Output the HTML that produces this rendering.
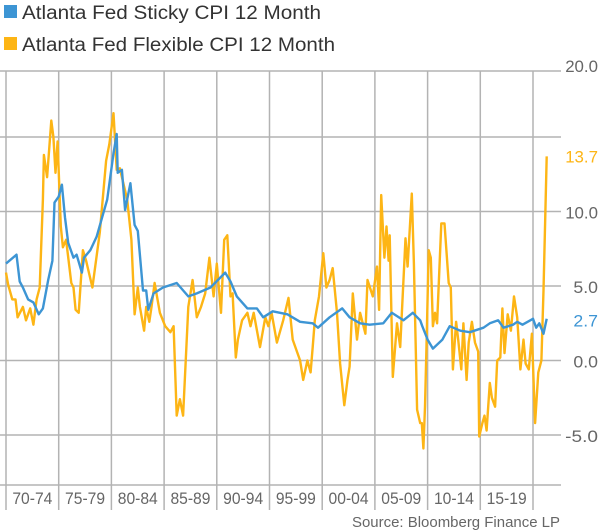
<!DOCTYPE html>
<html><head><meta charset="utf-8"><style>
html,body{margin:0;padding:0;background:#fff;}
svg{display:block;font-family:"Liberation Sans Narrow","Liberation Sans",sans-serif;}
</style></head><body>
<svg id="chart" width="600" height="532" viewBox="0 0 600 532" xmlns="http://www.w3.org/2000/svg">
<g id="grid"></g>
<g id="series"></g>
<g id="labels"></g>
<g>
<rect x="4" y="5" width="13" height="13" fill="#3d95d4"/>
<text x="22" y="19" font-size="19" fill="#333" textLength="299" lengthAdjust="spacingAndGlyphs">Atlanta Fed Sticky CPI 12 Month</text>
<rect x="4" y="37" width="13" height="13" fill="#fdb515"/>
<text x="22" y="51" font-size="19" fill="#333" textLength="313" lengthAdjust="spacingAndGlyphs">Atlanta Fed Flexible CPI 12 Month</text>
</g>
<text x="352" y="527" font-size="15" fill="#666" textLength="208" lengthAdjust="spacingAndGlyphs">Source: Bloomberg Finance LP</text>
</svg>
<script>
const stickyYears=[1970.0,1971.0,1971.3,1971.6,1972.1,1972.6,1973.1,1973.5,1974.0,1974.4,1974.6,1975.0,1975.3,1975.6,1975.9,1976.4,1976.7,1977.2,1977.4,1978.0,1978.6,1979.6,1980.2,1980.5,1980.6,1981.0,1981.3,1981.8,1982.2,1982.5,1983.0,1983.3,1983.5,1984.0,1984.9,1986.2,1987.3,1988.1,1989.4,1990.8,1991.3,1991.9,1992.9,1993.8,1994.4,1995.3,1996.7,1997.9,1999.1,1999.6,2000.7,2001.9,2002.6,2003.6,2004.5,2005.8,2006.6,2007.7,2008.6,2009.3,2009.5,2010.0,2010.5,2011.4,2012.1,2013.1,2014.0,2015.3,2015.9,2016.7,2017.2,2018.1,2018.5,2019.0,2020.0,2020.3,2020.6,2021.0,2021.3];
const stickyValues=[6.5,7.1,5.3,4.9,4.1,3.9,3.1,3.5,5.4,6.7,10.6,11.0,11.8,9.6,7.9,6.9,7.1,5.9,6.9,7.4,8.3,10.8,13.9,15.2,12.6,12.8,10.1,11.9,9.1,8.7,4.7,4.7,3.4,4.5,4.9,5.2,4.3,4.5,4.9,5.9,5.3,4.3,3.5,3.5,2.9,3.3,3.1,2.6,2.5,2.2,2.9,3.5,2.9,2.5,2.4,2.5,3.2,2.7,3.2,2.7,2.3,1.4,0.8,1.4,2.3,2.0,1.9,2.2,2.5,2.7,2.2,2.4,2.6,2.4,2.8,2.2,2.5,1.8,2.8];
const flexYears=[1970.0,1970.2,1970.6,1970.9,1971.1,1971.6,1971.9,1972.3,1972.6,1972.9,1973.2,1973.5,1973.6,1973.9,1974.3,1974.5,1974.7,1974.9,1975.2,1975.4,1975.7,1976.2,1976.4,1976.6,1976.9,1977.3,1977.6,1977.8,1978.2,1978.9,1979.5,1979.8,1980.2,1980.5,1980.8,1981.5,1981.9,1982.2,1982.5,1982.7,1983.1,1983.3,1983.6,1983.8,1984.1,1984.6,1985.1,1985.6,1985.9,1986.2,1986.5,1986.8,1987.3,1987.7,1988.1,1988.5,1988.9,1989.3,1989.7,1990.0,1990.4,1990.7,1991.0,1991.3,1991.5,1991.8,1992.0,1992.4,1992.9,1993.2,1993.5,1994.1,1994.6,1994.9,1995.2,1995.7,1996.3,1996.8,1997.2,1997.9,1998.2,1998.6,1998.9,1999.1,1999.3,1999.7,2000.1,2000.4,2000.7,2001.0,2001.4,2001.7,2002.1,2002.4,2002.6,2002.9,2003.3,2003.6,2004.1,2004.3,2004.8,2005.2,2005.4,2005.6,2005.9,2006.1,2006.3,2006.4,2006.7,2007.1,2007.4,2007.9,2008.1,2008.5,2008.7,2009.0,2009.3,2009.45,2009.6,2009.75,2009.9,2010.1,2010.3,2010.5,2010.7,2010.9,2011.3,2011.6,2012.0,2012.2,2012.4,2012.7,2012.9,2013.2,2013.4,2013.7,2013.9,2014.2,2014.5,2014.8,2014.9,2015.2,2015.4,2015.6,2015.9,2016.1,2016.4,2016.6,2016.9,2017.1,2017.3,2017.6,2017.9,2018.2,2018.5,2018.8,2019.1,2019.3,2019.6,2019.9,2020.2,2020.5,2020.8,2021.0,2021.3];
const flexValues=[5.9,5.1,4.1,4.1,2.9,3.6,2.7,3.5,2.4,4.1,4.9,10.8,13.8,12.3,16.1,15.0,12.6,14.7,9.0,7.6,8.1,5.2,4.9,3.4,3.2,7.4,6.7,6.1,4.9,8.6,13.4,14.5,16.6,12.8,12.9,10.8,8.1,3.1,4.9,3.6,2.0,3.6,2.6,3.6,5.2,3.2,2.3,1.9,2.3,-3.7,-2.6,-3.7,3.6,5.4,2.9,3.6,4.5,6.9,4.3,6.5,3.2,8.1,8.4,4.3,4.5,0.2,1.4,2.7,3.2,2.3,3.2,0.9,2.9,2.3,3.2,1.2,2.7,4.2,1.4,0.0,-1.3,0.0,-0.8,0.9,2.7,4.3,7.2,4.9,5.4,6.2,3.2,-0.2,-3.0,-1.3,-0.4,4.5,1.4,3.2,1.8,5.4,4.3,6.3,3.4,11.1,6.9,9.0,6.7,8.4,-1.1,2.5,0.9,8.2,6.3,11.2,6.5,-3.3,-4.2,-4.2,-5.9,-3.1,1.0,7.4,6.9,2.3,3.2,2.5,9.2,9.2,5.2,4.9,-0.6,2.6,1.4,-0.6,2.5,-1.3,1.2,2.6,1.2,0.6,-5.1,-4.2,-3.7,-4.7,-1.5,-2.5,-3.1,0.0,0.2,3.5,0.5,3.1,2.0,4.3,2.9,-0.6,1.4,-0.2,-0.6,1.8,-4.2,-0.8,0.0,4.7,13.7];
const yTicks=[10,5,0,-5];
const yTickLabels=["10.0","5.0","0.0","-5.0"];
const xGridYears=[1970,1975,1980,1985,1990,1995,2000,2005,2010,2015,2020];
const xCategoryLabels=["70-74","75-79","80-84","85-89","90-94","95-99","00-04","05-09","10-14","15-19"];
const lastSticky=2.7, lastFlex=13.7;

const NS="http://www.w3.org/2000/svg";
function xs(yr){return 6+(yr-1970)*10.54;}
function ys(v){return 360.5-v*14.9;}
function mk(tag,attrs,parent){const e=document.createElementNS(NS,tag);for(const k in attrs)e.setAttribute(k,attrs[k]);parent.appendChild(e);return e;}
function w(s){return s.length*8.2;}
const grid=document.getElementById('grid'),series=document.getElementById('series'),labels=document.getElementById('labels');
const GC="#b3b3b3";
let e=mk('line',{x1:0,x2:561,y1:71,y2:71,stroke:GC,'stroke-width':1.5},grid);


[15,10,5,0,-5].forEach(v=>{
  const l=mk('line',{x1:0,x2:561,y1:ys(v),y2:ys(v),stroke:GC,'stroke-width':1.5},grid);
  
  
});
xGridYears.forEach(yr=>{
  const l=mk('line',{x1:xs(yr),x2:xs(yr),y1:71,y2:510,stroke:GC,'stroke-width':1.5},grid);
  
  
});
e=mk('line',{x1:0,x2:561,y1:485,y2:485,stroke:GC,'stroke-width':1.5},grid);


function pathOf(xa,va){return xa.map((x,i)=>(i?'L':'M')+xs(x).toFixed(1)+' '+ys(va[i]).toFixed(1)).join(' ');}
e=mk('path',{d:pathOf(flexYears,flexValues),fill:'none',stroke:'#fdb515','stroke-width':2.4,'stroke-linejoin':'round'},series);


e=mk('path',{d:pathOf(stickyYears,stickyValues),fill:'none',stroke:'#3d95d4','stroke-width':2.4,'stroke-linejoin':'round'},series);


function rtext(s,y,color,name){
  const t=mk('text',{x:598-w(s),y:y,'font-size':17,fill:color,textLength:w(s),lengthAdjust:'spacingAndGlyphs'},labels);
  t.textContent=s;
  return t;
}
e=rtext("20.0",72,'#666');


yTicks.forEach((v,i)=>{
  const t=rtext(yTickLabels[i],ys(v)+7,'#666');
  
  
});
e=rtext(lastFlex.toFixed(1),ys(lastFlex)+6,'#fdb515');


e=rtext(lastSticky.toFixed(1),ys(lastSticky)+6,'#3d95d4');


xCategoryLabels.forEach((s,i)=>{
  const cx=xs(1970+5*i+2.5);
  const t=mk('text',{x:cx-20,y:504,'font-size':17,fill:'#666',textLength:40,lengthAdjust:'spacingAndGlyphs'},labels);
  t.textContent=s;
  
  
});
</script>
</body></html>
